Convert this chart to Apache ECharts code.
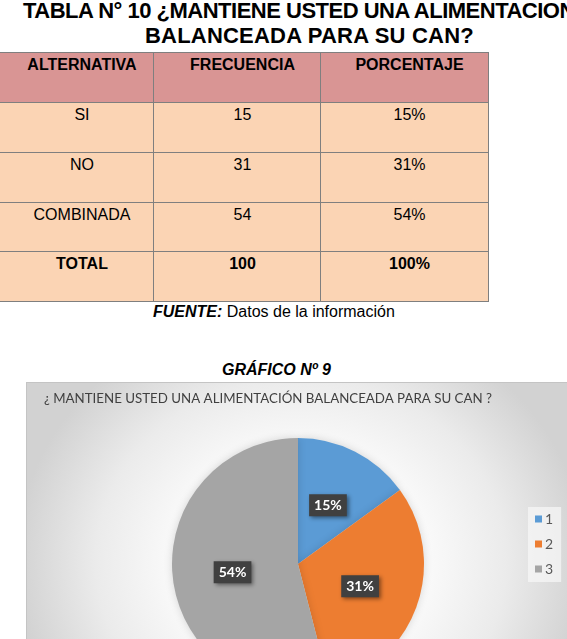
<!DOCTYPE html>
<html>
<head>
<meta charset="utf-8">
<script src="https://cdn.jsdelivr.net/npm/echarts@6/dist/echarts.min.js"></script>
<style>
html,body{margin:0;padding:0;width:567px;height:639px;overflow:hidden;background:#fff;}
.t{position:absolute;white-space:nowrap;font-family:"Liberation Sans",Arial,sans-serif;color:#000;}
.cell{position:absolute;box-sizing:border-box;border-left:1px solid #7f7f7f;border-top:1px solid #7f7f7f;
 font-family:"Liberation Sans",Arial,sans-serif;font-size:16px;line-height:24px;text-align:center;padding-left:10px;color:#000;white-space:nowrap;}
#box{position:absolute;left:26px;top:382px;width:560px;height:300px;box-sizing:border-box;
 border-top:1px solid #c4c4c4;border-left:1px solid #c4c4c4;
 background:radial-gradient(ellipse 285px 255px at 274px 178px, #ffffff 0%, #fcfcfc 40%, #ebebeb 72%, #d2d2d2 100%);}
#chart{position:absolute;left:0;top:0;width:559px;height:299px;}
</style>
</head>
<body>
<div class="t" style="left:23px;top:-2px;font-size:22px;font-weight:bold;line-height:25px;letter-spacing:-0.5px;">TABLA N° 10 ¿MANTIENE USTED UNA ALIMENTACION</div>
<div class="t" style="left:145px;top:23px;font-size:22px;font-weight:bold;line-height:25px;letter-spacing:0.2px;">BALANCEADA PARA SU CAN?</div>
<div id="table"></div>
<div class="t" style="left:153px;top:303px;font-size:16px;line-height:18px;"><b><i>FUENTE:</i></b> Datos de la información</div>
<div class="t" style="left:222px;top:361px;font-size:16px;line-height:18px;font-weight:bold;font-style:italic;">GRÁFICO Nº 9</div>
<div id="box"><div id="chart"></div></div>
<script>
// ---- data ----
const headers = ['ALTERNATIVA', 'FRECUENCIA', 'PORCENTAJE'];
const categories = ['SI', 'NO', 'COMBINADA'];
const frecuencia = [15, 31, 54];
const porcentaje = ['15%', '31%', '54%'];
const totalRow = ['TOTAL', '100', '100%'];
const legendNames = ['1', '2', '3'];
const pieValues = [15, 31, 54];
const chartTitle = '¿ MANTIENE USTED UNA ALIMENTACIÓN BALANCEADA PARA SU CAN ?';

// ---- table ----
const colX = [-1, 153, 320, 488];
const rowY = [52, 102, 152, 202, 251, 301];
const tbl = document.getElementById('table');
function cell(r, c, text, bg, bold) {
  const d = document.createElement('div');
  d.className = 'cell';
  d.style.left = colX[c] + 'px';
  d.style.top = rowY[r] + 'px';
  d.style.width = (colX[c + 1] - colX[c] + 1) + 'px';
  d.style.height = (rowY[r + 1] - rowY[r] + 1) + 'px';
  d.style.background = bg;
  if (c === colX.length - 2) d.style.borderRight = '1px solid #7f7f7f';
  if (r === rowY.length - 2) d.style.borderBottom = '1px solid #7f7f7f';
  if (bold) d.style.fontWeight = 'bold';
  d.textContent = text;
  tbl.appendChild(d);
}
const HEAD = '#d99594', BODY = '#fbd4b4';
headers.forEach((h, c) => cell(0, c, h, HEAD, true));
categories.forEach((cat, i) => {
  cell(i + 1, 0, cat, BODY, false);
  cell(i + 1, 1, String(frecuencia[i]), BODY, false);
  cell(i + 1, 2, porcentaje[i], BODY, false);
});
totalRow.forEach((t, c) => cell(4, c, t, BODY, true));

// ---- chart ----
const colors = ['#5b9bd5', '#ed7d31', '#a5a5a5'];
const chart = echarts.init(document.getElementById('chart'), null, {renderer: 'canvas'});
chart.setOption({
  animation: false,
  color: colors,
  title: {
    text: chartTitle, left: 17, top: 7, padding: 0,
    textStyle: {fontFamily: 'Lato', fontSize: 13.3, fontWeight: 'normal', color: '#404040', lineHeight: 18}
  },
  legend: {
    orient: 'vertical', left: 501, top: 124,
    padding: [5, 8, 6, 7],
    backgroundColor: 'rgba(248,248,248,0.7)',
    icon: 'rect', itemWidth: 7, itemHeight: 7, itemGap: 11,
    textStyle: {fontFamily: 'Lato', fontSize: 14, color: '#595959', lineHeight: 14, padding: [0, 0, 0, -2]},
    data: legendNames
  },
  series: [{
    type: 'pie',
    center: [271, 181],
    radius: 126,
    startAngle: 90,
    clockwise: true,
    itemStyle: {shadowBlur: 8, shadowColor: 'rgba(0,0,0,0.15)'},
    label: {
      position: 'inside',
      formatter: p => p.value + '%',
      color: '#fff', fontFamily: 'Lato', fontWeight: 'bold', fontSize: 14,
      backgroundColor: '#404040', padding: [4, 5, 4, 5],
      shadowBlur: 4, shadowColor: 'rgba(0,0,0,0.45)', shadowOffsetX: 2, shadowOffsetY: 2
    },
    labelLine: {show: false},
    emphasis: {disabled: true},
    data: legendNames.map((n, i) => ({name: n, value: pieValues[i]}))
  }]
});
</script>
</body>
</html>
